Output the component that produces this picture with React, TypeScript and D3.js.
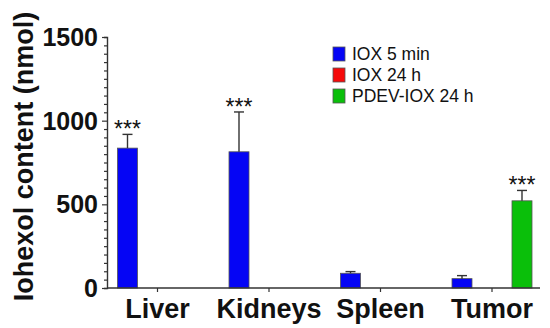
import React, { useEffect, useRef } from "react";
import * as d3 from "d3";

const organs = ["Liver", "Kidneys", "Spleen", "Tumor"];
const seriesNames = ["IOX 5 min", "IOX 24 h", "PDEV-IOX 24 h"];
const seriesColors = ["#0505f5", "#f50a0a", "#0abf0a"];

// mean and upper error (SD) per organ
const iox5min = [836, 814, 88, 56];
const iox5minErr = [82, 238, 10, 18];
const iox24h = [0, 0, 0, 0];
const iox24hErr = [0, 0, 0, 0];
const pdev24h = [0, 0, 0, 521];
const pdev24hErr = [0, 0, 0, 62];

// significance marks: [organ, series]
const starMarks = [
  ["Liver", "IOX 5 min"],
  ["Kidneys", "IOX 5 min"],
  ["Tumor", "PDEV-IOX 24 h"],
];

const yTicks = [0, 500, 1000, 1500];

const FONT = "'Liberation Sans', Arial, Helvetica, sans-serif";

function App() {
  const ref = useRef<SVGSVGElement>(null);

  useEffect(() => {
    const svg = d3.select(ref.current);
    svg.selectAll("*").remove();

    const values = [iox5min, iox24h, pdev24h];
    const errors = [iox5minErr, iox24hErr, pdev24hErr];
    const rows: any[] = [];
    seriesNames.forEach((s, si) => {
      organs.forEach((o, oi) => {
        rows.push({ organ: o, series: s, si, value: values[si][oi], err: errors[si][oi] });
      });
    });

    const y = d3.scaleLinear().domain([0, 1500]).range([288, 37]);
    const x = d3.scalePoint<string>().domain(organs).range([157.5, 492]);
    const xs = d3
      .scaleBand<string>()
      .domain(seriesNames)
      .range([-45, 45])
      .paddingInner(1 / 3)
      .paddingOuter(1 / 6);

    const axisColor = "#333";

    // bars
    const bars = rows.filter(d => d.value > 0);
    svg
      .append("g")
      .selectAll("rect")
      .data(bars)
      .enter()
      .append("rect")
      .attr("x", d => x(d.organ)! + xs(d.series)!)
      .attr("y", d => y(d.value))
      .attr("width", xs.bandwidth())
      .attr("height", d => y(0) - y(d.value))
      .attr("fill", d => seriesColors[d.si])
      .attr("stroke", "#555")
      .attr("stroke-width", 0.8);

    // error bars (upper only)
    const eb = svg.append("g").attr("stroke", axisColor).attr("stroke-width", 1.4);
    bars.filter(d => d.err > 0).forEach(d => {
      const cx = x(d.organ)! + xs(d.series)! + xs.bandwidth() / 2;
      eb.append("line")
        .attr("x1", cx).attr("x2", cx)
        .attr("y1", y(d.value)).attr("y2", y(d.value + d.err));
      eb.append("line")
        .attr("x1", cx - 5).attr("x2", cx + 5)
        .attr("y1", y(d.value + d.err)).attr("y2", y(d.value + d.err));
    });

    // stars
    starMarks.forEach(([o, s]) => {
      const d = rows.find(r => r.organ === o && r.series === s);
      const cx = x(o)! + xs(s)! + xs.bandwidth() / 2;
      svg.append("text")
        .attr("x", cx)
        .attr("y", y(d.value + d.err) + 3)
        .attr("text-anchor", "middle")
        .style("font-family", FONT)
        .style("font-size", "23px")
        .attr("fill", "#111")
        .text("***");
    });

    // y axis, minor ticks every 50
    const yAxis = d3
      .axisLeft(y)
      .tickValues(d3.range(0, 1501, 50))
      .tickSize(3)
      .tickFormat(() => "");
    const ya = svg.append("g").attr("transform", "translate(107,0)").call(yAxis);
    ya.selectAll("line").attr("stroke", axisColor).attr("stroke-width", 1.2);
    ya.select(".domain").attr("stroke", axisColor).attr("stroke-width", 1.4);
    ya.selectAll<SVGLineElement, number>(".tick line")
      .filter(d => yTicks.includes(d))
      .attr("x2", -5);

    svg.append("g")
      .selectAll("text")
      .data(yTicks)
      .enter()
      .append("text")
      .attr("x", 98)
      .attr("y", d => y(d) + 9)
      .attr("text-anchor", "end")
      .style("font-family", FONT)
      .style("font-size", "25px")
      .style("font-weight", "bold")
      .attr("fill", "#111")
      .text(d => d);

    // x axis
    svg.append("line")
      .attr("x1", 107).attr("x2", 540)
      .attr("y1", 288).attr("y2", 288)
      .attr("stroke", axisColor)
      .attr("stroke-width", 1.4);
    svg.append("g")
      .selectAll("line")
      .data(organs)
      .enter()
      .append("line")
      .attr("x1", d => x(d)!).attr("x2", d => x(d)!)
      .attr("y1", 288).attr("y2", 292)
      .attr("stroke", axisColor)
      .attr("stroke-width", 1.2);
    svg.append("g")
      .selectAll("text")
      .data(organs)
      .enter()
      .append("text")
      .attr("x", d => x(d)!)
      .attr("y", 318)
      .attr("text-anchor", "middle")
      .style("font-family", FONT)
      .style("font-size", "27px")
      .style("font-weight", "bold")
      .attr("fill", "#111")
      .text(d => d);

    // y title
    svg.append("text")
      .attr("transform", "translate(33,156.5) rotate(-90)")
      .attr("text-anchor", "middle")
      .style("font-family", FONT)
      .style("font-size", "27px")
      .style("font-weight", "bold")
      .attr("fill", "#111")
      .text("Iohexol content (nmol)");

    // legend
    const lg = svg.append("g").attr("transform", "translate(333,47)");
    seriesNames.forEach((s, i) => {
      lg.append("rect")
        .attr("x", 0).attr("y", i * 21)
        .attr("width", 12).attr("height", 14)
        .attr("fill", seriesColors[i])
        .attr("stroke", "#555")
        .attr("stroke-width", 0.8);
      lg.append("text")
        .attr("x", 19).attr("y", i * 21 + 13)
        .style("font-family", FONT)
        .style("font-size", "17.5px")
        .attr("fill", "#111")
        .text(s);
    });
  });

  return (
    <svg
      ref={ref}
      width={550}
      height={328}
      style={{ position: "absolute", left: 0, top: 0, background: "#fff" }}
    />
  );
}

export default App;
